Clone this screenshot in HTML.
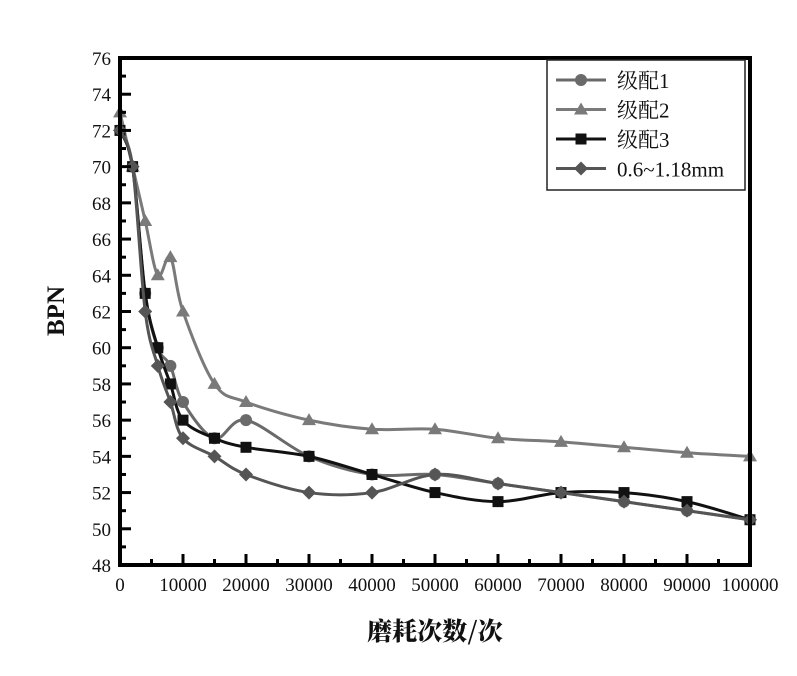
<!DOCTYPE html>
<html><head><meta charset="utf-8"><style>
body{margin:0;background:#fff;}
svg text{font-family:"Liberation Serif","Noto Serif CJK SC",serif;fill:#111;}
</style></head><body>
<svg id="s" width="797" height="671" xmlns="http://www.w3.org/2000/svg">
<rect width="797" height="671" fill="#fff"/>
<g id="plot"></g>
<rect x="120" y="58" width="630" height="507" fill="none" stroke="#000" stroke-width="4"/>
<g id="ticks"></g>
<rect x="547" y="60" width="198" height="130" fill="#fff" stroke="#222" stroke-width="1.5"/>
<g id="leg"></g>
<text x="64" y="311" font-size="25" font-weight="bold" text-anchor="middle" transform="rotate(-90 64 311)">BPN</text>
<text x="435" y="640" font-size="25" font-weight="900" text-anchor="middle" style="font-family:'Noto Serif CJK SC','Liberation Serif',serif">磨耗次数/次</text>
</svg>
<script>
const NS="http://www.w3.org/2000/svg";
const X=v=>120+v*0.0063, Y=v=>565-(v-48)*507/28;
function el(t,a,p){const e=document.createElementNS(NS,t);for(const k in a)e.setAttribute(k,a[k]);p.appendChild(e);return e;}
const tk=document.getElementById('ticks');
for(let v=48;v<=76;v+=2){el('line',{x1:120,x2:131,y1:Y(v),y2:Y(v),stroke:'#000','stroke-width':3},tk);
 if(v<76)el('line',{x1:120,x2:126,y1:Y(v+1),y2:Y(v+1),stroke:'#000','stroke-width':3},tk);
 const t=el('text',{x:111,y:Y(v)+7,'font-size':19,'text-anchor':'end'},tk);t.textContent=v;}
for(let v=0;v<=100000;v+=10000){el('line',{x1:X(v),x2:X(v),y1:565,y2:554,stroke:'#000','stroke-width':3},tk);
 if(v<100000)el('line',{x1:X(v+5000),x2:X(v+5000),y1:565,y2:559,stroke:'#000','stroke-width':3},tk);
 const t=el('text',{x:X(v),y:591,'font-size':19,'text-anchor':'middle'},tk);t.textContent=v;}
const xs=[0,2000,4000,6000,8000,10000,15000,20000,30000,40000,50000,60000,70000,80000,90000,100000];
const S=[
{c:'#6a6a6a',m:'c',d:[72,70,63,60,59,57,55,56,54,53,53,52.5,52,51.5,51,50.5]},
{c:'#7a7a7a',m:'t',d:[73,70,67,64,65,62,58,57,56,55.5,55.5,55,54.8,54.5,54.2,54]},
{c:'#111',m:'s',d:[72,70,63,60,58,56,55,54.5,54,53,52,51.5,52,52,51.5,50.5]},
{c:'#555',m:'d',d:[72,70,62,59,57,55,54,53,52,52,53,52.5,52,51.5,51,50.5]}];
function path(p){let d=`M${p[0][0]},${p[0][1]}`;for(let i=0;i<p.length-1;i++){const a=p[Math.max(0,i-1)],b=p[i],c=p[i+1],e=p[Math.min(p.length-1,i+2)];
d+=`C${b[0]+(c[0]-a[0])/6},${b[1]+(c[1]-a[1])/6} ${c[0]-(e[0]-b[0])/6},${c[1]-(e[1]-b[1])/6} ${c[0]},${c[1]}`;}return d;}
function mk(m,x,y,c,g){if(m=='c')el('circle',{cx:x,cy:y,r:6,fill:c},g);
else if(m=='t')el('polygon',{points:`${x},${y-7} ${x+7},${y+5} ${x-7},${y+5}`,fill:c},g);
else if(m=='s')el('rect',{x:x-5.5,y:y-5.5,width:11,height:11,fill:c},g);
else el('polygon',{points:`${x},${y-7} ${x+7},${y} ${x},${y+7} ${x-7},${y}`,fill:c},g);}
const g=document.getElementById('plot');
S.forEach(s=>{const p=xs.map((x,i)=>[X(x),Y(s.d[i])]);el('path',{d:path(p),fill:'none',stroke:s.c,'stroke-width':3},g);p.forEach(q=>mk(s.m,q[0],q[1],s.c,g));});
const lg=document.getElementById('leg'),names=['级配1','级配2','级配3','0.6~1.18mm'];
S.forEach((s,i)=>{const y=80+i*29.5;el('line',{x1:556,x2:606,y1:y,y2:y,stroke:s.c,'stroke-width':3},lg);mk(s.m,581,y,s.c,lg);
const t=el('text',{x:617,y:y+8,'font-size':21},lg);t.textContent=names[i];});
</script>
</body></html>
